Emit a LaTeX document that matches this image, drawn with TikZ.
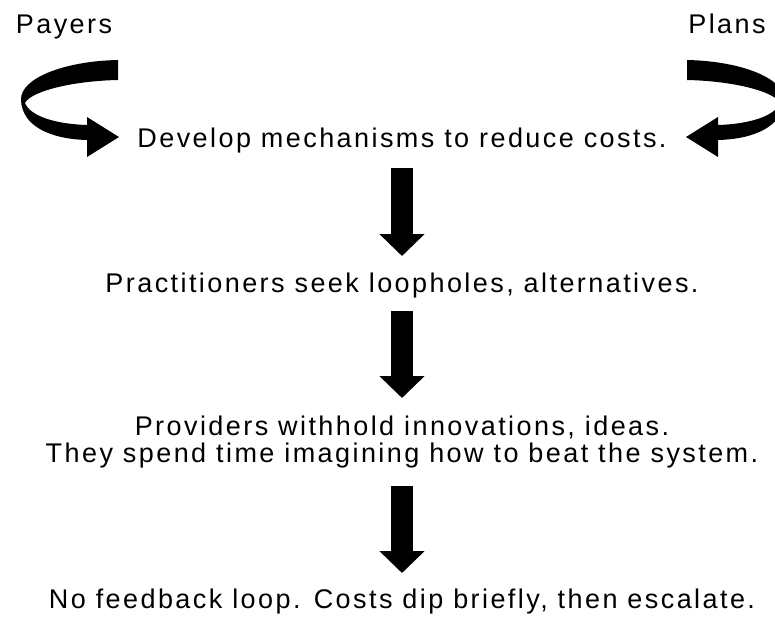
\documentclass[tikz,border=0pt]{standalone}
\usepackage{fontspec}
\setmainfont{Liberation Sans}[LetterSpace=9]
\usetikzlibrary{arrows.meta}
\tikzset{
    stage/.style={font=\fontsize{27}{27}\selectfont, inner sep=0pt, anchor=base, align=center},
    downarrow/.style={line width=22pt, -{Triangle[length=22pt,width=44pt]}},
    % ribbon arrow that swings round and points inwards
    curl/.pic={
        \fill (118,60) .. controls (65,61) and (20,78) .. (21,100)
            .. controls (22,126) and (50,139) .. (87,140)
            -- (87,157) -- (119,137) -- (87,117) -- (87,125)
            .. controls (55,124) and (30,116) .. (25,103)
            .. controls (30,92) and (70,81) .. (118,80) -- cycle;
    }
}

\begin{document}
\begin{tikzpicture}[x=1pt,y=-1pt]
\useasboundingbox (0,0) rectangle (775,616);

\node[stage] (payers) at (64,33) {Payers};
\node[stage] (plans) at (727,33) {Plans};
\node[stage] (develop) at (402,147) {Develop mechanisms to reduce costs.};
\node[stage] (seek) at (402,292) {Practitioners seek loopholes, alternatives.};
\node[stage] (withhold) at (402,462) {Providers withhold innovations, ideas.\\They spend time imagining how to beat the system.};
\node[stage] (nofeedback) at (402,608) {No feedback loop. Costs dip briefly, then escalate.};

% the two curls feeding the first stage
\pic at (0,0) {curl};
\pic[xscale=-1] at (805,0) {curl};

% chain of stages
\draw[downarrow] ([yshift=-21pt]develop.base) -- ([yshift=36pt]seek.base);
\draw[downarrow] ([yshift=-19pt]seek.base) -- ([yshift=64pt]withhold.base);
\draw[downarrow] ([yshift=-24pt]withhold.base) -- ([yshift=35pt]nofeedback.base);
\end{tikzpicture}
\end{document}
